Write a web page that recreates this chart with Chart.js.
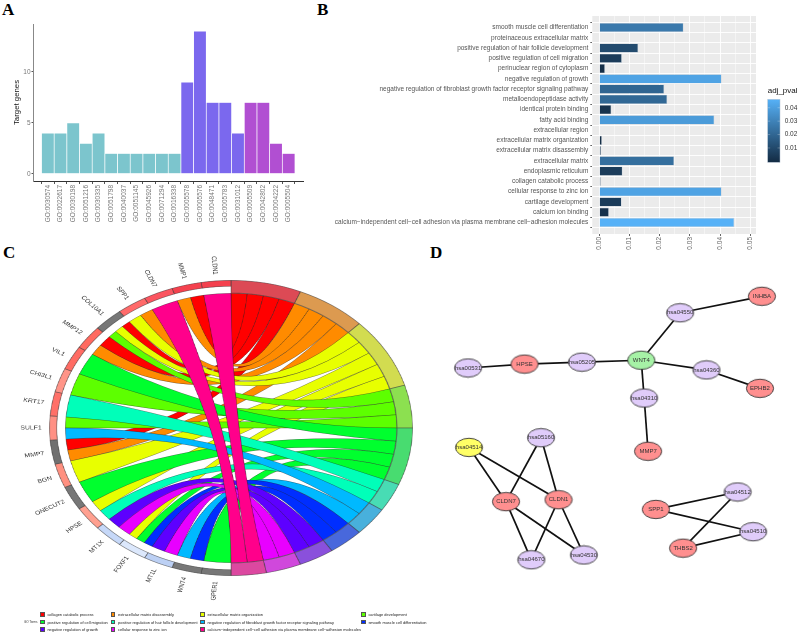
<!DOCTYPE html>
<html>
<head>
<meta charset="utf-8">
<script src="https://cdn.jsdelivr.net/npm/chart.js@4"></script>
<style>
    body { margin: 0; background: #fff; font-family: 'Liberation Sans', sans-serif; }
    #page { position: relative; width: 799px; height: 635px; overflow: hidden; }
    canvas { position: absolute; }
    .panel { position: absolute; font: bold 17px 'Liberation Serif', serif; color: #000; line-height: 17px; }
    #legend { position: absolute; left: 40px; top: 610.5px; display: grid; grid-template-columns: 70.7px 89.3px 161px auto; grid-auto-rows: 7.7px; font-size: 3.95px; color: #222; }
    #legend div { display: flex; align-items: center; white-space: nowrap; }
    #legend i { width: 4.8px; height: 4.8px; margin-right: 2.6px; box-sizing: border-box; border: 0.2px solid #555; }
    #legendTitle { position: absolute; left: 24px; top: 620px; font-size: 3px; color: #333; }
</style>
</head>
<body>
<div id="page">
    <div class="panel" style="left:2px;top:1px">A</div>
    <div class="panel" style="left:317px;top:1px">B</div>
    <div class="panel" style="left:3px;top:244px">C</div>
    <div class="panel" style="left:430px;top:244px">D</div>
    <canvas id="barChart" style="left:0;top:0"></canvas>
    <canvas id="pvalChart" style="left:310px;top:0"></canvas>
    <canvas id="chordChart" style="left:6px;top:245px"></canvas>
    <canvas id="networkChart" style="left:430px;top:270px"></canvas>
    <div id="legendTitle">GO Terms</div>
    <div id="legend"></div>
</div>
<script>
// Panel A data
const goIds = ['GO:0030574', 'GO:0022617', 'GO:0030198', 'GO:0051216', 'GO:0030335', 'GO:0051798', 'GO:0040037',
    'GO:0051145', 'GO:0045926', 'GO:0071294', 'GO:0016338', 'GO:0005578', 'GO:0005576', 'GO:0048471', 'GO:0005783',
    'GO:0031012', 'GO:0005509', 'GO:0042802', 'GO:0004222', 'GO:0005504'];
const targetGenes = [4, 4, 5, 3, 4, 2, 2, 2, 2, 2, 2, 9, 14, 7, 7, 4, 7, 7, 3, 2];
const goGroup = ['bp', 'bp', 'bp', 'bp', 'bp', 'bp', 'bp', 'bp', 'bp', 'bp', 'bp', 'cc', 'cc', 'cc', 'cc', 'cc', 'mf', 'mf', 'mf', 'mf'];
const groupColors = { bp: '#7cc5cd', cc: '#7b68ee', mf: '#b14fd2' };

// Panel B data
const pvalTerms = ['smooth muscle cell differentiation', 'proteinaceous extracellular matrix',
    'positive regulation of hair follicle development', 'positive regulation of cell migration',
    'perinuclear region of cytoplasm', 'negative regulation of growth',
    'negative regulation of fibroblast growth factor receptor signaling pathway', 'metalloendopeptidase activity',
    'identical protein binding', 'fatty acid binding', 'extracellular region', 'extracellular matrix organization',
    'extracellular matrix disassembly', 'extracellular matrix', 'endoplasmic reticulum', 'collagen catabolic process',
    'cellular response to zinc ion', 'cartilage development', 'calcium ion binding',
    'calcium\u2212independent cell\u2212cell adhesion via plasma membrane cell\u2212adhesion molecules'];
const adjPval = [0.0279, 0, 0.0129, 0.0075, 0.0019, 0.0405, 0.0215, 0.0225, 0.004, 0.0381, 0, 0.0009, 0.0006, 0.0248,
    0.0077, 0.0005, 0.0405, 0.0074, 0.0032, 0.0447];
const pvalTicks = [0, 0.005, 0.01, 0.015, 0.02, 0.025, 0.03, 0.035, 0.04, 0.045, 0.05];
const colorbarTicks = [0.01, 0.02, 0.03, 0.04];

// Panel C data
const chordTerms = ['collagen catabolic process', 'extracellular matrix disassembly', 'extracellular matrix organization',
    'cartilage development', 'positive regulation of cell migration', 'positive regulation of hair follicle development',
    'negative regulation of fibroblast growth factor receptor signaling pathway', 'smooth muscle cell differentiation',
    'negative regulation of growth', 'cellular response to zinc ion',
    'calcium\u2212independent cell\u2212cell adhesion via plasma membrane cell\u2212adhesion molecules'];
const ribbonColors = ['#ff0000', '#ff8b00', '#e8ff00', '#5dff00', '#00ff2e', '#00ffb9', '#00b9ff', '#002eff', '#5d00ff', '#e800ff', '#ff008b'];
const ringColors = ['#dc4a55', '#dc9a50', '#d2dc50', '#8ce050', '#48dc70', '#48dcb4', '#48b0dc', '#4868dc', '#8a50dc', '#d048dc', '#dc48a0'];
const chordGenes = ['CLDN1', 'MMP1', 'CLDN7', 'SPP1', 'COL10A1', 'MMP12', 'VIL1', 'CHI3L1', 'KRT17', 'SULF1', 'MMP7', 'BGN',
    'ONECUT2', 'HPSE', 'MT1X', 'FOXF1', 'MT1L', 'WNT4', 'GPER1'];
const geneColors = ['#f4414e', '#f4414e', '#fb5560', '#ff6a6a', '#777777', '#ff6a60', '#ff6c64', '#ff9488', '#ff7068', '#ff9084',
    '#707070', '#ff9080', '#777777', '#ffa090', '#c6d8f8', '#dce8fc', '#bcd0f4', '#777777', '#777777'];
const termGenes = [
    ['MMP1', 'COL10A1', 'MMP12', 'MMP7'],
    ['MMP1', 'SPP1', 'MMP12', 'MMP7'],
    ['SPP1', 'COL10A1', 'BGN', 'HPSE', 'FOXF1'],
    ['COL10A1', 'CHI3L1', 'SULF1'],
    ['VIL1', 'ONECUT2', 'FOXF1', 'GPER1'],
    ['KRT17', 'HPSE'],
    ['SULF1', 'WNT4'],
    ['FOXF1', 'WNT4'],
    ['MT1X', 'MT1L'],
    ['MT1X', 'MT1L'],
    ['CLDN1', 'CLDN7']
];

// Panel D data
const nodeNames = ['INHBA', 'hsa04550', 'WNT4', 'hsa04360', 'EPHB2', 'hsa04310', 'MMP7', 'hsa05205', 'HPSE', 'hsa00531',
    'hsa04514', 'hsa05160', 'CLDN7', 'CLDN1', 'hsa04670', 'hsa04530', 'SPP1', 'hsa04512', 'hsa04510', 'THBS2'];
const nodeX = [336, 252, 212, 279, 334, 215, 219, 151, 92, 34, 35, 109, 73, 127, 99, 153, 227, 311, 327, 255];
const nodeY = [22, 39, 88, 98, 117, 127, 182, 90, 92, 96, 178, 168, 234, 232, 294, 289, 242, 224, 265, 282];
const nodeKind = ['gene', 'path', 'up', 'path', 'gene', 'path', 'gene', 'path', 'gene', 'path',
    'hit', 'path', 'gene', 'gene', 'path', 'path', 'gene', 'path', 'path', 'gene'];
const kindColors = { gene: '#ff8f8f', path: '#e0ccfa', up: '#a6f2a6', hit: '#ffff66' };
const edges = [['INHBA', 'hsa04550'], ['hsa04550', 'WNT4'], ['WNT4', 'hsa04360'], ['hsa04360', 'EPHB2'], ['WNT4', 'hsa04310'],
    ['hsa04310', 'MMP7'], ['WNT4', 'hsa05205'], ['hsa05205', 'HPSE'], ['HPSE', 'hsa00531'], ['hsa04514', 'CLDN7'],
    ['hsa04514', 'CLDN1'], ['hsa05160', 'CLDN7'], ['hsa05160', 'CLDN1'], ['CLDN7', 'hsa04670'], ['CLDN7', 'hsa04530'],
    ['CLDN1', 'hsa04670'], ['CLDN1', 'hsa04530'], ['SPP1', 'hsa04512'], ['SPP1', 'hsa04510'], ['THBS2', 'hsa04512'], ['THBS2', 'hsa04510']];

Chart.defaults.font.family = "'Liberation Sans', sans-serif";
Chart.defaults.animation = false;
Chart.defaults.responsive = false;
Chart.defaults.plugins.legend.display = false;
Chart.defaults.plugins.tooltip.enabled = false;

function setSize(id, w, h) {
    const canvas = document.getElementById(id);
    canvas.width = w;
    canvas.height = h;
    return canvas;
}

// Panel A: target genes per GO term
new Chart(setSize('barChart', 310, 240), {
    type: 'bar',
    data: {
        datasets: [{
            data: targetGenes.map((v, i) => ({ x: i, y: v })),
            backgroundColor: goGroup.map(g => groupColors[g]),
            borderColor: 'rgba(255, 255, 255, 0.6)',
            borderWidth: 0.7,
            barPercentage: 1,
            categoryPercentage: 1
        }]
    },
    options: {
        layout: { padding: { top: 24, right: 7, left: 12 } },
        scales: {
            x: {
                type: 'linear',
                min: -0.6,
                max: 19.6,
                afterBuildTicks: s => { s.ticks = goIds.map((_, i) => ({ value: i })); },
                afterFit: s => { s.height = 59; },
                border: { color: '#333', width: 1 },
                grid: { display: true, drawOnChartArea: false, tickLength: 3, tickColor: '#555' },
                ticks: {
                    autoSkip: false, minRotation: 90, maxRotation: 90, padding: 1,
                    color: '#777', font: { size: 6.5 },
                    callback: v => goIds[v]
                }
            },
            y: {
                min: -0.7,
                max: 14.7,
                afterBuildTicks: s => { s.ticks = [0, 5, 10].map(v => ({ value: v })); },
                afterFit: s => { s.width = 21.5; },
                border: { color: '#888', width: 1 },
                grid: { display: true, drawOnChartArea: false, tickLength: 2, tickColor: '#555' },
                title: { display: true, text: 'Target genes', color: '#111', font: { size: 7.8 }, padding: 0 },
                ticks: { color: '#777', font: { size: 6.5 }, padding: 1 }
            }
        }
    }
});

// Panel B: adjusted p values
function pvalColor(v) {
    const t = Math.pow(v / 0.0447, 1.15);
    const low = [19, 43, 67], high = [86, 177, 247];
    return 'rgb(' + low.map((c, i) => Math.round(c + (high[i] - c) * t)).join(',') + ')';
}

const pvalPlugin = {
    id: 'pvalPlugin',
    beforeDraw(chart) {
        const a = chart.chartArea, ctx = chart.ctx;
        ctx.save();
        ctx.fillStyle = '#ebebeb';
        ctx.fillRect(a.left, a.top, a.width, a.height);
        ctx.restore();
    },
    afterDraw(chart) {
        const ctx = chart.ctx;
        const barX = 457.7, barW = 12.3, barTop = 99.3, barH = 63;
        const toY = v => barTop + (0.0463 - v) / 0.047 * barH;
        ctx.save();
        const grad = ctx.createLinearGradient(0, barTop, 0, barTop + barH);
        grad.addColorStop(0, '#56b1f7');
        grad.addColorStop(1, '#132b43');
        ctx.fillStyle = grad;
        ctx.fillRect(barX, barTop, barW, barH);
        ctx.strokeStyle = 'rgba(180, 195, 210, 0.8)';
        ctx.lineWidth = 0.6;
        ctx.strokeRect(barX, barTop, barW, barH);
        ctx.font = "6.5px 'Liberation Sans'";
        ctx.textBaseline = 'middle';
        colorbarTicks.forEach(v => {
            ctx.strokeStyle = 'rgba(255, 255, 255, 0.5)';
            ctx.lineWidth = 0.5;
            ctx.beginPath();
            ctx.moveTo(barX, toY(v));
            ctx.lineTo(barX + 2.5, toY(v));
            ctx.moveTo(barX + barW - 2.5, toY(v));
            ctx.lineTo(barX + barW, toY(v));
            ctx.stroke();
            ctx.fillStyle = '#333';
            ctx.fillText(v.toFixed(2), barX + 17, toY(v));
        });
        ctx.font = "8px 'Liberation Sans'";
        ctx.fillStyle = '#111';
        ctx.fillText('adj_pval', barX, 91);
        ctx.restore();
    }
};

const isMajor = v => Math.round(v * 1000) % 10 === 0;

new Chart(setSize('pvalChart', 489, 250), {
    type: 'bar',
    data: {
        datasets: [{
            data: adjPval.map((v, i) => ({ x: v, y: i })),
            backgroundColor: adjPval.map(pvalColor),
            borderColor: 'rgba(180, 195, 210, 0.8)',
            borderWidth: adjPval.map(v => v > 0 ? 0.6 : 0),
            barPercentage: 0.9,
            categoryPercentage: 1
        }]
    },
    options: {
        indexAxis: 'y',
        layout: { padding: { top: 16, right: 43 } },
        scales: {
            x: {
                type: 'linear',
                position: 'bottom',
                min: -0.0023,
                max: 0.0519,
                afterBuildTicks: s => { s.ticks = pvalTicks.map(v => ({ value: v })); },
                afterFit: s => { s.height = 16; },
                border: { display: false },
                grid: {
                    color: '#fff',
                    lineWidth: c => isMajor(c.tick.value) ? 0.9 : 0.45,
                    tickLength: 2,
                    tickColor: c => isMajor(c.tick.value) ? '#555' : 'transparent'
                },
                ticks: {
                    autoSkip: false, minRotation: 90, maxRotation: 90, padding: 1,
                    color: '#666', font: { size: 6.5 },
                    callback: v => isMajor(v) ? v.toFixed(2) : ''
                }
            },
            y: {
                type: 'linear',
                reverse: true,
                min: -0.6,
                max: 19.6,
                afterBuildTicks: s => { s.ticks = pvalTerms.map((_, i) => ({ value: i })); },
                afterFit: s => { s.width = 282.3; },
                border: { display: false },
                grid: { color: '#fff', lineWidth: 0.9, tickLength: 2, tickColor: '#555' },
                ticks: {
                    autoSkip: false, padding: 2, color: '#555', font: { size: 6.5 },
                    callback: v => pvalTerms[v]
                }
            }
        }
    },
    plugins: [pvalPlugin]
});

// Panel C: chord between GO terms (right half) and genes (left half)
const geneLinks = chordGenes.map(g => termGenes.map((genes, t) => genes.includes(g) ? t : -1).filter(t => t >= 0));
const genesClockwise = chordGenes.slice().reverse();
const geneShare = termGenes.flat().length / chordGenes.length;

const chordPlugin = {
    id: 'chordPlugin',
    afterDatasetsUpdate(chart) {
        // gene sectors are a thinner band than the GO term sectors
        chart.getDatasetMeta(0).data.forEach((arc, i) => {
            if (i >= termGenes.length) arc.innerRadius = arc.outerRadius * 0.955;
        });
    },
    afterDatasetsDraw(chart) {
        const ctx = chart.ctx, arcs = chart.getDatasetMeta(0).data;
        const cx = arcs[0].x, cy = arcs[0].y, r = arcs[0].innerRadius, labelR = arcs[0].outerRadius + 6;
        const geneArc = g => arcs[termGenes.length + chordGenes.length - 1 - chordGenes.indexOf(g)];
        const px = a => cx + r * Math.cos(a), py = a => cy + r * Math.sin(a);

        ctx.save();
        ctx.lineWidth = 0.3;
        ctx.strokeStyle = '#222';
        termGenes.forEach((genes, t) => {
            const arc = arcs[t], step = (arc.endAngle - arc.startAngle) / genes.length;
            genes.forEach((g, j) => {
                const a0 = arc.startAngle + j * step, a1 = a0 + step;
                const ga = geneArc(g), links = geneLinks[chordGenes.indexOf(g)];
                const w = (ga.endAngle - ga.startAngle) / links.length;
                const b1 = ga.endAngle - links.indexOf(t) * w, b0 = b1 - w;
                ctx.beginPath();
                ctx.arc(cx, cy, r, a0, a1);
                ctx.quadraticCurveTo(cx, cy, px(b0), py(b0));
                ctx.arc(cx, cy, r, b0, b1);
                ctx.quadraticCurveTo(cx, cy, px(a0), py(a0));
                ctx.closePath();
                ctx.fillStyle = ribbonColors[t];
                ctx.fill();
                ctx.stroke();
            });
        });

        // gene names point at the centre and end just outside the ring
        ctx.font = "5.6px 'Liberation Sans'";
        ctx.fillStyle = '#333';
        ctx.textAlign = 'right';
        ctx.textBaseline = 'middle';
        chordGenes.forEach(g => {
            const ga = geneArc(g), mid = (ga.startAngle + ga.endAngle) / 2;
            ctx.save();
            ctx.translate(cx + labelR * Math.cos(mid), cy + labelR * Math.sin(mid));
            ctx.rotate(mid + Math.PI);
            ctx.fillText(g, 0, 0);
            ctx.restore();
        });
        ctx.restore();
    }
};

const chordCanvas = setSize('chordChart', 366, 366);
new Chart(chordCanvas, {
    type: 'doughnut',
    data: {
        labels: chordTerms.concat(genesClockwise),
        datasets: [{
            data: termGenes.map(g => g.length).concat(chordGenes.map(() => geneShare)),
            backgroundColor: ringColors.concat(geneColors.slice().reverse()),
            borderColor: chordTerms.concat(chordGenes).map(() => 'rgba(60, 60, 60, 0.6)'),
            borderWidth: 0.4,
            borderAlign: 'inner'
        }]
    },
    options: {
        devicePixelRatio: 2,
        cutout: '91%',
        layout: { padding: 35 }
    },
    plugins: [chordPlugin]
});
// the reference chord is wider than tall
chordCanvas.style.width = '450px';
chordCanvas.style.height = '366px';

// Legend under the chord
document.getElementById('legend').innerHTML = chordTerms.map((t, i) =>
    `<div><i style="background:${ribbonColors[i]}"></i>${t}</div>`).join('');

// Panel D: pathway network
function ellipsePoint(fill) {
    const c = document.createElement('canvas');
    c.width = 30;
    c.height = 21;
    const g = c.getContext('2d');
    g.beginPath();
    g.ellipse(15, 10.5, 13.6, 9.2, 0, 0, Math.PI * 2);
    g.fillStyle = fill;
    g.fill();
    g.lineWidth = 0.9;
    g.strokeStyle = '#333';
    g.stroke();
    return c;
}

const nodePoint = n => ({ x: nodeX[nodeNames.indexOf(n)], y: nodeY[nodeNames.indexOf(n)] });

const nodeLabels = {
    id: 'nodeLabels',
    afterDatasetsDraw(chart) {
        const ctx = chart.ctx, meta = chart.getDatasetMeta(0);
        ctx.save();
        ctx.font = "6px 'Liberation Sans'";
        ctx.fillStyle = '#333';
        ctx.textAlign = 'center';
        ctx.textBaseline = 'middle';
        meta.data.forEach((p, i) => ctx.fillText(nodeNames[i], p.x, p.y));
        ctx.restore();
    }
};

new Chart(setSize('networkChart', 369, 320), {
    type: 'scatter',
    data: {
        datasets: [{
            data: nodeNames.map(nodePoint),
            pointStyle: nodeKind.map(k => ellipsePoint(kindColors[k])),
            order: 0
        }].concat(edges.map(e => ({
            data: e.map(nodePoint),
            showLine: true,
            borderColor: '#111',
            borderWidth: 1.7,
            pointRadius: 0,
            order: 1
        })))
    },
    options: {
        scales: {
            x: { display: false, min: 0, max: 369 },
            y: { display: false, min: 0, max: 320, reverse: true }
        }
    },
    plugins: [nodeLabels]
});
</script>
</body>
</html>
